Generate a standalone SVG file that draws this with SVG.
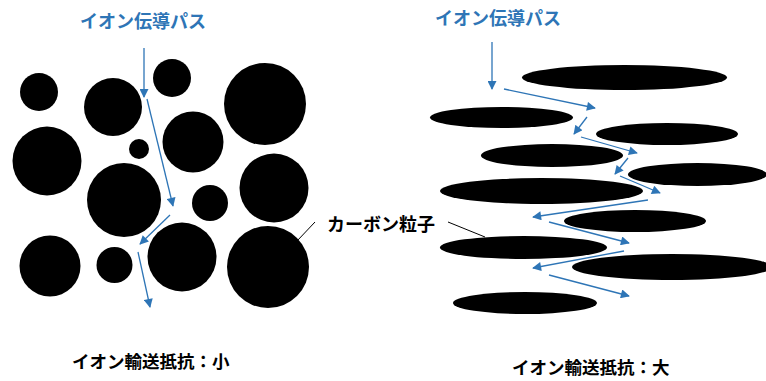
<svg xmlns="http://www.w3.org/2000/svg" width="766" height="381" viewBox="0 0 766 381">
<defs>
<marker id="ah" viewBox="0 0 10 10" refX="9" refY="5" markerWidth="11" markerHeight="9" markerUnits="userSpaceOnUse" orient="auto">
<path d="M0,0 L10,5 L0,10 Z" fill="#2E75B6"/>
</marker>
<style>
.p{fill:#000}
.t{font-family:"Noto Sans CJK JP","Liberation Sans",sans-serif;font-weight:bold;font-size:18px}
.s{font-size:17.5px}
.blue{fill:#2E75B6}
.a{stroke:#2E75B6;stroke-width:1.3;fill:none;marker-end:url(#ah)}
.l{stroke:#000;stroke-width:1;fill:none}
</style>
</defs>
<rect width="766" height="381" fill="#fff"/>
<g id="left-particles">
<circle class="p" cx="39" cy="92" r="19"/>
<circle class="p" cx="113" cy="107" r="29"/>
<circle class="p" cx="172" cy="78" r="19"/>
<circle class="p" cx="265" cy="104" r="41"/>
<circle class="p" cx="47" cy="161" r="34.5"/>
<circle class="p" cx="139" cy="149" r="10"/>
<circle class="p" cx="193" cy="142" r="30.5"/>
<circle class="p" cx="274" cy="188" r="34.5"/>
<circle class="p" cx="124" cy="200" r="37"/>
<circle class="p" cx="210" cy="203" r="18"/>
<circle class="p" cx="50" cy="266" r="30.5"/>
<circle class="p" cx="114.5" cy="265" r="18"/>
<circle class="p" cx="182" cy="257" r="34.5"/>
<circle class="p" cx="268" cy="267" r="41"/>
</g>
<g id="right-particles">
<ellipse class="p" cx="624.5" cy="77.5" rx="102.5" ry="12.5"/>
<ellipse class="p" cx="501.5" cy="117.5" rx="71.5" ry="10.5"/>
<ellipse class="p" cx="667" cy="134" rx="71" ry="11"/>
<ellipse class="p" cx="552" cy="155.5" rx="71" ry="11.5"/>
<ellipse class="p" cx="697.5" cy="174.5" rx="69.5" ry="11.5"/>
<ellipse class="p" cx="541.5" cy="191" rx="101.5" ry="13"/>
<ellipse class="p" cx="635" cy="221" rx="71" ry="11"/>
<ellipse class="p" cx="523.5" cy="247.5" rx="83.5" ry="11.5"/>
<ellipse class="p" cx="672" cy="267" rx="100" ry="13"/>
<ellipse class="p" cx="525" cy="303" rx="72" ry="11"/>
</g>
<g id="connectors">
<line class="a" x1="144" y1="48" x2="144" y2="97"/>
<line class="a" x1="147" y1="99" x2="173" y2="206"/>
<line class="a" x1="170" y1="215" x2="140" y2="244"/>
<line class="a" x1="138" y1="252" x2="150" y2="307"/>
<line class="a" x1="492" y1="42" x2="492" y2="89"/>
<line class="a" x1="504" y1="89" x2="595" y2="108"/>
<line class="a" x1="587" y1="117" x2="574" y2="134"/>
<line class="a" x1="581" y1="137" x2="637" y2="153"/>
<line class="a" x1="628" y1="158" x2="615" y2="174"/>
<line class="a" x1="620" y1="176" x2="660" y2="193"/>
<line class="a" x1="648" y1="200" x2="533" y2="217"/>
<line class="a" x1="549" y1="222" x2="629" y2="243"/>
<line class="a" x1="624" y1="251" x2="533" y2="268"/>
<line class="a" x1="549" y1="275" x2="629" y2="296"/>
<line class="l" x1="297" y1="241" x2="315" y2="222"/>
<line class="l" x1="448" y1="222" x2="485" y2="237"/>
</g>
<g id="labels">
<text class="t blue" x="80" y="28">イオン伝導パス</text>
<text class="t blue" x="435" y="25">イオン伝導パス</text>
<text class="t" x="327" y="231">カーボン粒子</text>
<text class="t s" x="72" y="368">イオン輸送抵抗：小</text>
<text class="t s" x="512" y="374">イオン輸送抵抗：大</text>
</g>
</svg>
